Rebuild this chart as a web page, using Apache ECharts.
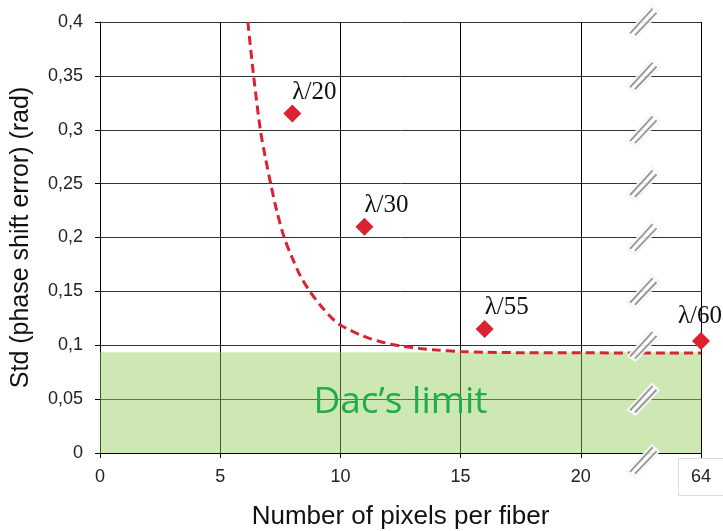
<!DOCTYPE html>
<html>
<head>
<meta charset="utf-8">
<script src="https://cdn.jsdelivr.net/npm/echarts@6/dist/echarts.min.js"></script>
<style>html,body{margin:0;padding:0;background:#fff}#c{width:723px;height:531px}</style>
</head>
<body>
<div id="c"></div>
<script>
// ---- data ----
const xTickValues = [0, 5, 10, 15, 20, 25];
const xTickLabels = ['0', '5', '10', '15', '20', '64'];
const yTickValues = [0, 0.05, 0.1, 0.15, 0.2, 0.25, 0.3, 0.35, 0.4];

const pointX = [8, 11, 16, 25];
const pointY = [0.315, 0.21, 0.115, 0.104];
const pointLabels = ['λ/20', 'λ/30', 'λ/55', 'λ/60'];

const curveX = [6.15, 6.39, 6.67, 6.88, 7.10, 7.36, 7.66, 7.98, 8.32, 8.73, 9.2, 9.7, 10.0, 10.4, 10.81, 11.23, 11.64, 12.1, 12.6, 13.3, 14.0, 15.0, 16.0, 17.6, 25];
const curveY = [0.400, 0.350, 0.300, 0.274, 0.250, 0.224, 0.200, 0.182, 0.165, 0.150, 0.1362, 0.1240, 0.1188, 0.1140, 0.1098, 0.1062, 0.1035, 0.1010, 0.0990, 0.0970, 0.0956, 0.0942, 0.0935, 0.0931, 0.0928];

const dacLimit = 0.0935;
const dacLabel = 'Dac’s limit';

const breakX = 22.6;
const breakY = [0.4, 0.35, 0.3, 0.25, 0.2, 0.15, 0.1, 0.05, -0.007];

// ---- chart ----
const chart = echarts.init(document.getElementById('c'));
const red = '#da2330';
const slashPath = 'path://M1.26 28.32L24.26 3.32L25.74 4.68L2.74 29.68Z M6.26 30.32L28.26 7.32L29.74 8.68L7.74 31.68Z';
const haloPath = 'path://M2.9 31L28.7 3L37.1 11L12.3 37Z';

const labelPos = [[9, -25], [9, -25], [9, -25], [-14, -28]];

chart.setOption({
  animation: false,
  grid: { left: 100, right: 22, top: 22, bottom: 78, containLabel: false, outerBoundsMode: 'none' },
  xAxis: {
    type: 'value', min: 0, max: 25, interval: 5,
    name: 'Number of pixels per fiber',
    nameLocation: 'middle', nameGap: 51,
    nameTextStyle: { fontFamily: 'Liberation Sans', fontSize: 26, color: '#111' },
    axisLine: { show: true, lineStyle: { color: '#000', width: 1 } },
    axisTick: { show: true, length: 5, lineStyle: { color: '#000' } },
    splitLine: { show: true, lineStyle: { color: '#000', width: 1 } },
    axisLabel: {
      margin: 6,
      formatter: function (v) {
        const i = xTickValues.indexOf(v);
        const t = i >= 0 ? xTickLabels[i] : '';
        return v === 25 ? '{box|' + t + '}' : '{n|' + t + '}';
      },
      rich: {
        n: { fontFamily: 'Liberation Sans', fontSize: 18, color: '#222', padding: [9, 0, 9, 0] },
        box: { fontFamily: 'Liberation Sans', fontSize: 18, color: '#222', padding: [9, 12, 9, 12],
               borderColor: '#dcdcdc', borderWidth: 1, backgroundColor: '#fff' }
      }
    }
  },
  yAxis: {
    type: 'value', min: 0, max: 0.4, interval: 0.05,
    name: 'Std (phase shift error) (rad)',
    nameLocation: 'middle', nameGap: 66, nameRotate: 90,
    nameTextStyle: { fontFamily: 'Liberation Sans', fontSize: 25, color: '#111' },
    axisLine: { show: true, lineStyle: { color: '#000', width: 1 } },
    axisTick: { show: true, length: 5, lineStyle: { color: '#000' } },
    splitLine: { show: true, lineStyle: { color: '#333', width: 1 } },
    axisLabel: {
      margin: 17, fontFamily: 'Liberation Sans', fontSize: 18, color: '#222',
      formatter: function (v) {
        const k = yTickValues.findIndex(t => Math.abs(t - v) < 1e-9);
        return String(+yTickValues[k].toFixed(2)).replace('.', ',');
      }
    }
  },
  series: [
    {
      type: 'line', name: 'fit',
      data: curveX.map((x, i) => [x, curveY[i]]),
      smooth: 0.3, showSymbol: false, symbol: 'none',
      lineStyle: { color: red, width: 3, type: [9, 5] },
      z: 3,
      markArea: {
        silent: true,
        itemStyle: { color: 'rgba(146,204,88,0.45)' },
        label: { show: true, position: 'inside', formatter: dacLabel,
                 fontFamily: 'Open Sans', fontSize: 37, color: '#1fae4b' },
        data: [[{ coord: [0, 0] }, { coord: [25, dacLimit] }]]
      }
    },
    {
      type: 'scatter', name: 'halo', clip: false, silent: true,
      data: breakY.map(y => [breakX, y]),
      symbol: haloPath, symbolSize: [34, 34],
      itemStyle: { color: 'rgba(255,255,255,0.88)', borderColor: 'rgba(200,200,200,0.6)', borderWidth: 0.5, opacity: 1 },
      z: 5
    },
    {
      type: 'scatter', name: 'break', clip: false, silent: true,
      data: breakY.map(y => [breakX, y]),
      symbol: slashPath, symbolSize: [28, 28],
      itemStyle: { color: '#9b9b9b', opacity: 1 },
      z: 6
    },
    {
      type: 'scatter', name: 'points', clip: false,
      data: pointX.map((x, i) => ({
        value: [x, pointY[i]],
        label: { show: true, formatter: pointLabels[i], position: labelPos[i] }
      })),
      symbol: 'diamond', symbolSize: 18,
      itemStyle: { color: red, opacity: 1 },
      label: { fontFamily: 'Liberation Serif', fontSize: 25, color: '#111', align: 'left', verticalAlign: 'top' },
      z: 7
    }
  ]
});
</script>
</body>
</html>
